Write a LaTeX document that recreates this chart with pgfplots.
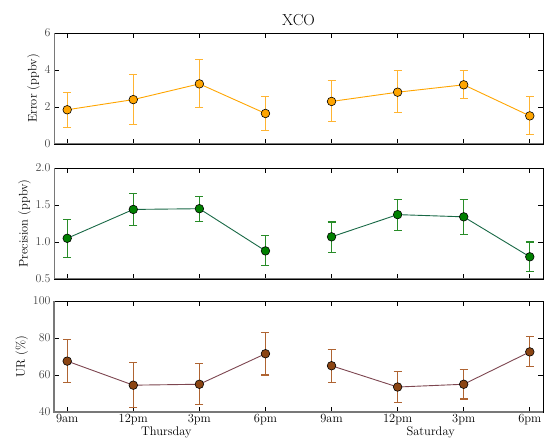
\documentclass[border=0pt]{standalone}
\usepackage{pgfplots}
\usepackage{pgfplotstable}
\pgfplotsset{compat=1.18}
\definecolor{cOr}{RGB}{255,165,0}
\definecolor{cOrE}{RGB}{255,180,50}
\definecolor{cGr}{RGB}{0,128,0}
\definecolor{cGrL}{RGB}{25,105,70}
\definecolor{cGrE}{RGB}{40,140,40}
\definecolor{cBr}{RGB}{139,69,19}
\definecolor{cBrL}{RGB}{125,70,80}
\definecolor{cBrE}{RGB}{175,100,50}
\definecolor{cTick}{RGB}{70,70,70}
\definecolor{cSpine}{RGB}{120,120,120}

% x  y  plus  minus
\pgfplotstableread{
x y ep em
0 1.85 0.95 0.95
1 2.40 1.35 1.35
2 3.25 1.30 1.30
3 1.65 0.90 0.90
}\errThu
\pgfplotstableread{
x y ep em
4 2.30 1.15 1.10
5 2.80 1.15 1.10
6 3.20 0.75 0.75
7 1.52 1.03 1.02
}\errSat
\pgfplotstableread{
x y ep em
0 1.05 0.25 0.26
1 1.44 0.21 0.22
2 1.45 0.17 0.17
3 0.88 0.21 0.20
}\preThu
\pgfplotstableread{
x y ep em
4 1.07 0.20 0.21
5 1.37 0.21 0.22
6 1.34 0.23 0.24
7 0.80 0.20 0.20
}\preSat
\pgfplotstableread{
x y ep em
0 67.5 11.5 11.5
1 54.5 12.5 12.0
2 55.0 11.0 11.0
3 71.5 11.5 11.5
}\urThu
\pgfplotstableread{
x y ep em
4 65.0 9.0 9.0
5 53.5 8.5 8.5
6 55.0 8.0 8.0
7 72.5 8.5 8.0
}\urSat

\pgfplotsset{
  panel/.style={
    scale only axis, width=489bp, height=111bp,
    xmin=-0.2, xmax=7.2,
    xtick={0,...,7},
    tick align=inside,
    major tick length=5bp,
    tick style={black, line width=0.6bp},
    axis line style={black, line width=0.6bp},
    ticklabel style={font=\fontsize{12.5}{14}\selectfont, text=cTick},
    label style={font=\fontsize{12.5}{14}\selectfont},
    ylabel style={yshift=-2bp},
    every axis plot/.append style={line width=0.9bp},
  },
  ser/.style n args={3}{#1, mark=*, mark size=4.3bp,
    mark options={fill=#2, draw=black, line width=0.6bp},
    error bars/.cd, y dir=both, y explicit,
    error mark options={rotate=90, mark size=4bp, line width=1.1bp, color=#3},
    error bar style={line width=1.1bp, color=#3}},
}

\begin{document}
\begin{tikzpicture}
\path[use as bounding box] (0bp,0bp) rectangle (544bp,441bp);

% --- Error panel
\begin{axis}[panel, at={(54bp,297bp)}, anchor=south west,
  ymin=0, ymax=6, ytick={0,2,4,6}, xticklabels={},
  ylabel={Error (ppbv)},
  title={XCO}, title style={font=\fontsize{16}{18}\selectfont, yshift=-2bp}]
\draw[cSpine, line width=2bp] (rel axis cs:0,1) -- (rel axis cs:0,0) -- (rel axis cs:1,0);
\addplot[ser={cOr}{cOr}{cOrE}] table[x=x, y=y, y error plus=ep, y error minus=em] {\errThu};
\addplot[ser={cOr}{cOr}{cOrE}] table[x=x, y=y, y error plus=ep, y error minus=em] {\errSat};
\end{axis}

% --- Precision panel
\begin{axis}[panel, at={(54bp,162bp)}, anchor=south west,
  ymin=0.5, ymax=2.0, ytick={0.5,1.0,1.5,2.0}, xticklabels={},
  yticklabel style={/pgf/number format/.cd, fixed, fixed zerofill, precision=1},
  ylabel={Precision (ppbv)}]
\draw[cSpine, line width=2bp] (rel axis cs:0,1) -- (rel axis cs:0,0) -- (rel axis cs:1,0);
\addplot[ser={cGrL}{cGr}{cGrE}] table[x=x, y=y, y error plus=ep, y error minus=em] {\preThu};
\addplot[ser={cGrL}{cGr}{cGrE}] table[x=x, y=y, y error plus=ep, y error minus=em] {\preSat};
\end{axis}

% --- UR panel
\begin{axis}[panel, at={(54bp,29bp)}, anchor=south west,
  ymin=40, ymax=100, ytick={40,60,80,100},
  xticklabels={9am,12pm,3pm,6pm,9am,12pm,3pm,6pm},
  xticklabel style={text=black, yshift=1bp},
  ylabel={UR (\%)}, clip=false]
\draw[cSpine, line width=2bp] (rel axis cs:0,1) -- (rel axis cs:0,0) -- (rel axis cs:1,0);
\addplot[ser={cBrL}{cBr}{cBrE}] table[x=x, y=y, y error plus=ep, y error minus=em] {\urThu};
\addplot[ser={cBrL}{cBr}{cBrE}] table[x=x, y=y, y error plus=ep, y error minus=em] {\urSat};
\node[anchor=north, font=\fontsize{12.5}{14}\selectfont, inner sep=0pt] at (axis cs:1.5,40) [yshift=-15bp] {Thursday};
\node[anchor=north, font=\fontsize{12.5}{14}\selectfont, inner sep=0pt] at (axis cs:5.5,40) [yshift=-15bp] {Saturday};
\end{axis}
\end{tikzpicture}
\end{document}
